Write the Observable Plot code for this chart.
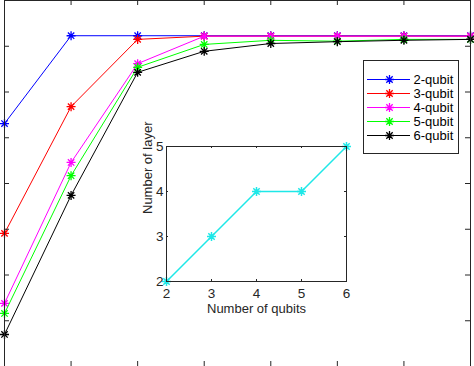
<!DOCTYPE html>
<html>
<head>
<meta charset="utf-8">
<script src="https://cdn.jsdelivr.net/npm/d3@7"></script>
<script src="https://cdn.jsdelivr.net/npm/@observablehq/plot@0.6"></script>
<style>
  html, body { margin: 0; padding: 0; background: white; }
  #wrap { position: relative; width: 474px; height: 366px; overflow: hidden; font-family: "Liberation Sans", Arial, sans-serif; }
  #wrap > div { position: absolute; }
</style>
</head>
<body>
<div id="wrap">
  <div id="main" style="left:0;top:0"></div>
  <div id="inset" style="left:130px;top:130px"></div>
  <div id="legend" style="left:363px;top:60px"></div>
</div>
<script>
// ---- data ----
const steps = [1, 2, 3, 4, 5, 6, 7, 8];
const seriesNames = ["2-qubit", "3-qubit", "4-qubit", "5-qubit", "6-qubit"];
const seriesColors = ["#0000ff", "#ff0000", "#ff00ff", "#00ff00", "#000000"];
const q2 = [0.731, 0.923, 0.923, 0.923, 0.923, 0.923, 0.923, 0.923];
const q3 = [0.491, 0.768, 0.915, 0.922, 0.922, 0.922, 0.922, 0.922];
const q4 = [0.338, 0.646, 0.862, 0.922, 0.922, 0.922, 0.922, 0.922];
const q5 = [0.316, 0.617, 0.854, 0.904, 0.913, 0.911, 0.915, 0.915];
const q6 = [0.270, 0.574, 0.843, 0.889, 0.906, 0.910, 0.913, 0.915];
const seriesValues = [q2, q3, q4, q5, q6];
const yTicks = [0.3, 0.4, 0.5, 0.6, 0.7, 0.8, 0.9];

const qubits = [2, 3, 4, 5, 6];
const layers = [2, 3, 4, 4, 5];
const qubitTicks = [2, 3, 4, 5, 6];
const layerTicks = [2, 3, 4, 5];

const axisColor = "#262626";
const insetColor = "#1ee8e8";
const font = "Liberation Sans, Arial, sans-serif";

const asterisk = {
  draw(ctx, size) {
    const r = Math.sqrt(size / Math.PI);
    const d = r * Math.SQRT1_2;
    ctx.moveTo(-r, 0); ctx.lineTo(r, 0);
    ctx.moveTo(0, -r); ctx.lineTo(0, r);
    ctx.moveTo(-d, -d); ctx.lineTo(d, d);
    ctx.moveTo(-d, d); ctx.lineTo(d, -d);
  }
};

// ---- main chart ----
const W = 474, H = 366, mL = 4, mR = 4, mT = 0, mB = 0;
const fw = W - mL - mR, fh = H - mT - mB;
const tl = 5;
const seriesMarks = seriesNames.flatMap((name, i) => {
  const rows = steps.map((s, j) => ({step: s, value: seriesValues[i][j]}));
  return [
    Plot.line(rows, {x: "step", y: "value", stroke: seriesColors[i], strokeWidth: 1}),
    Plot.dot(rows, {x: "step", y: "value", stroke: seriesColors[i], fill: "none", symbol: asterisk, r: 4.5, strokeWidth: 1.3})
  ];
});
const main = Plot.plot({
  width: W, height: H,
  marginLeft: mL, marginRight: mR, marginTop: mT, marginBottom: mB,
  x: {domain: [1, 8], axis: null},
  y: {domain: [0.2, 1.0], axis: null},
  style: {fontFamily: font, background: "white"},
  marks: [
    ...seriesMarks,
    Plot.tickX(steps, {x: d => d, stroke: axisColor, insetBottom: fh - tl}),
    Plot.tickX(steps, {x: d => d, stroke: axisColor, insetTop: fh - tl}),
    Plot.tickY(yTicks, {y: d => d, stroke: axisColor, insetRight: fw - tl}),
    Plot.tickY(yTicks, {y: d => d, stroke: axisColor, insetLeft: fw - tl}),
    Plot.frame({stroke: axisColor})
  ]
});
document.getElementById("main").appendChild(main);

// ---- inset ----
const iW = 230, iH = 195, iL = 36, iR = 14, iT = 16, iB = 44;
const ifw = iW - iL - iR, ifh = iH - iT - iB;
const itl = 2;
const insetRows = qubits.map((q, i) => ({q, layer: layers[i]}));
const inset = Plot.plot({
  width: iW, height: iH,
  marginLeft: iL, marginRight: iR, marginTop: iT, marginBottom: iB,
  x: {domain: [2, 6], axis: null},
  y: {domain: [2, 5], axis: null},
  style: {fontFamily: font, background: "transparent", overflow: "visible", color: axisColor},
  marks: [
    Plot.frame({fill: "white", stroke: "none"}),
    Plot.tickX(qubitTicks, {x: d => d, stroke: axisColor, insetBottom: ifh - itl}),
    Plot.tickX(qubitTicks, {x: d => d, stroke: axisColor, insetTop: ifh - itl}),
    Plot.tickY(layerTicks, {y: d => d, stroke: axisColor, insetRight: ifw - itl}),
    Plot.tickY(layerTicks, {y: d => d, stroke: axisColor, insetLeft: ifw - itl}),
    Plot.axisX(qubitTicks, {anchor: "bottom", tickSize: 0, tickPadding: 7, fontSize: 13.5, label: null, fill: axisColor}),
    Plot.axisY(layerTicks, {anchor: "left", tickSize: 0, tickPadding: 3, fontSize: 13.5, label: null, fill: axisColor}),
    Plot.text(["Number of qubits"], {frameAnchor: "bottom", dy: 31, fontSize: 13, fill: axisColor}),
    Plot.text(["Number of layer"], {frameAnchor: "left", rotate: -90, dx: -19, fontSize: 13, fill: axisColor}),
    Plot.line(insetRows, {x: "q", y: "layer", stroke: insetColor, strokeWidth: 1.5}),
    Plot.dot(insetRows, {x: "q", y: "layer", stroke: insetColor, fill: "none", symbol: asterisk, r: 4.5, strokeWidth: 1.5}),
    Plot.frame({stroke: axisColor})
  ]
});
document.getElementById("inset").appendChild(inset);

// ---- legend ----
const lW = 95, lH = 93;
const legend = Plot.plot({
  width: lW, height: lH,
  margin: 0,
  x: {type: "identity", axis: null},
  y: {type: "point", domain: seriesNames, range: [12, 82], axis: null},
  style: {fontFamily: font, background: "transparent", overflow: "visible"},
  marks: [
    Plot.frame({fill: "white", stroke: axisColor}),
    Plot.ruleY(seriesNames, {y: d => d, x1: 4, x2: 47, stroke: (d, i) => seriesColors[i], strokeWidth: 1}),
    Plot.dot(seriesNames, {y: d => d, x: 26, stroke: (d, i) => seriesColors[i], fill: "none", symbol: asterisk, r: 4.5, strokeWidth: 1.3}),
    Plot.text(seriesNames, {y: d => d, x: 50, text: d => d, textAnchor: "start", fontSize: 13, fill: "#000"})
  ]
});
document.getElementById("legend").appendChild(legend);
</script>
</body>
</html>
